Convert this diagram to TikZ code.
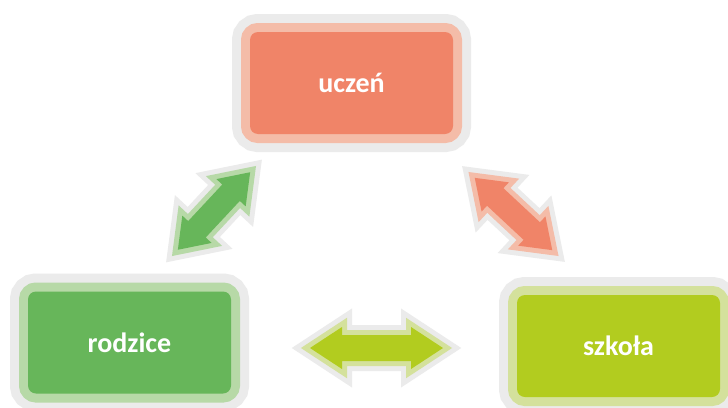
\documentclass[tikz,border=0pt]{standalone}
\usepackage{fontspec}
\setmainfont{Carlito}
\definecolor{ringgray}{HTML}{EBEBEB}
\definecolor{ordark}{HTML}{F08468}
\definecolor{orlight}{HTML}{F4BCA8}
\definecolor{grdark}{HTML}{67B65A}
\definecolor{grlight}{HTML}{B7D9A7}
\definecolor{lidark}{HTML}{B2CC1F}
\definecolor{lilight}{HTML}{D4E19C}
\tikzset{
  box/.style 2 args={rectangle, rounded corners=8pt, minimum width=203pt, minimum height=102pt,
    inner sep=0pt, text=white, font=\bfseries\fontsize{28}{32}\selectfont,
    preaction={draw=ringgray, line width=36pt},
    preaction={draw=#2, line width=18pt},
    fill=#1},
  arrowshape/.style 2 args={line join=miter, miter limit=10,
    preaction={draw=ringgray, line width=20pt},
    preaction={draw=#2, line width=10pt},
    fill=#1}
}
\begin{document}
\begin{tikzpicture}[x=1pt,y=-1pt]
\fill[white] (0,0) rectangle (728,407);
\useasboundingbox (0,0) rectangle (728,407);
\node[box={ordark}{orlight}] (uczen) at (351.5,83) {uczeń};
\node[box={grdark}{grlight}] (rodzice) at (129.5,342.5) {rodzice};
\node[box={lidark}{lilight}] (szkola) at (618.5,346) {szkoła};
% horizontal arrow
\begin{scope}[shift={(376.5,348)}]
\path[arrowshape={lidark}{lilight}] (-66.5,0) -- (-34.5,21) -- (-34.5,13) -- (34.5,13) -- (34.5,21) -- (66.5,0)
  -- (34.5,-21) -- (34.5,-13) -- (-34.5,-13) -- (-34.5,-21) -- cycle;
\end{scope}
% green diagonal arrow
\begin{scope}[shift={(214,211)}, rotate=47]
\path[arrowshape={grdark}{grlight}] (-53,0) -- (-25,20) -- (-25,12) -- (25,12) -- (25,20) -- (53,0)
  -- (25,-20) -- (25,-12) -- (-25,-12) -- (-25,-20) -- cycle;
\end{scope}
% orange diagonal arrow
\begin{scope}[shift={(513.5,214)}, rotate=-43]
\path[arrowshape={ordark}{orlight}] (-53,0) -- (-25,20) -- (-25,12) -- (25,12) -- (25,20) -- (53,0)
  -- (25,-20) -- (25,-12) -- (-25,-12) -- (-25,-20) -- cycle;
\end{scope}
\end{tikzpicture}
\end{document}
